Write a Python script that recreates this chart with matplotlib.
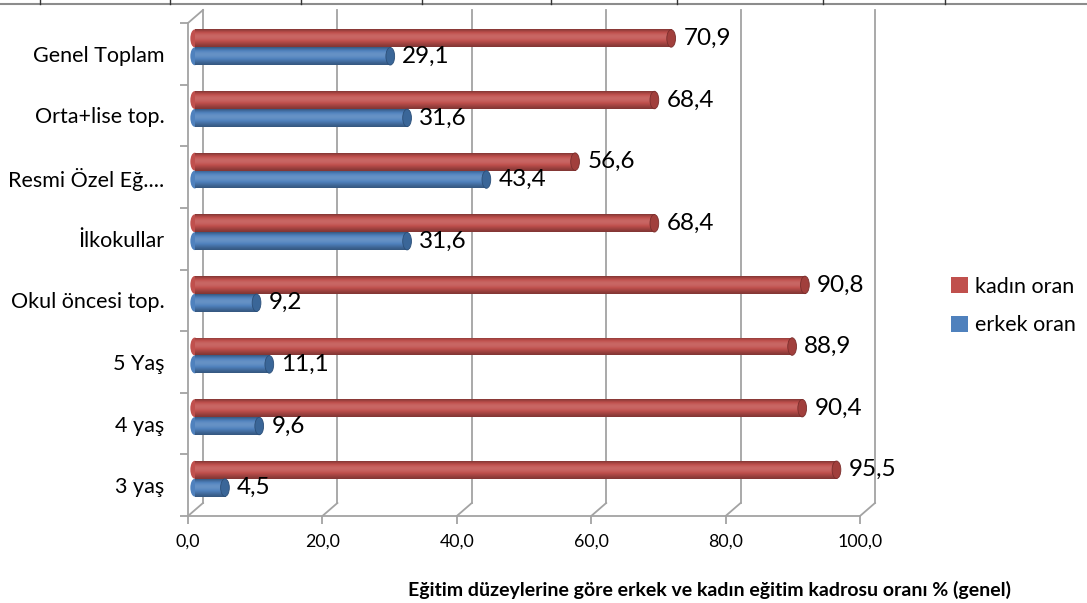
import numpy as np
import matplotlib
matplotlib.use("Agg")
import matplotlib.pyplot as plt
from matplotlib.patches import Ellipse, Patch
from matplotlib.lines import Line2D

plt.rcParams['font.family'] = ['Lato', 'DejaVu Sans']

# Veriler (alttan yukariya)
kategoriler = ["3 yaş", "4 yaş", "5 Yaş", "Okul öncesi top.", "İlkokullar",
               "Resmi Özel Eğ....", "Orta+lise top.", "Genel Toplam"]
kadin_oran = [95.5, 90.4, 88.9, 90.8, 68.4, 56.6, 68.4, 70.9]
erkek_oran = [4.5, 9.6, 11.1, 9.2, 31.6, 43.4, 31.6, 29.1]
x_ticks = [0, 20, 40, 60, 80, 100]
baslik = "Eğitim düzeylerine göre erkek ve kadın eğitim kadrosu oranı % (genel)"

W, H = 1087, 603
fig = plt.figure(figsize=(W / 100, H / 100), dpi=100)
ax = fig.add_axes([188 / W, 87 / H, 672 / W, 493 / H])
ax.set_xlim(0, 100)
ax.set_ylim(-0.5, len(kategoriler) - 0.5)

gri = '#a3a3a3'
# 3B derinlik (piksel -> veri birimi)
dx = 15 / 672 * 100
dy = 13 / (493 / len(kategoriler))
y0, y1 = -0.5, len(kategoriler) - 0.5

# arka duvar izgarasi ve taban cizgileri
for xt in x_ticks:
    ax.plot([xt, xt + dx], [y0, y0 + dy], color=gri, lw=1.3, zorder=1, clip_on=False)
    ax.plot([xt + dx, xt + dx], [y0 + dy, y1 + dy], color=gri, lw=1.3, zorder=1, clip_on=False)
ax.plot([0, dx], [y1, y1 + dy], color=gri, lw=1.3, zorder=1, clip_on=False)


def silindir_renk(base, n=64):
    base = np.array(matplotlib.colors.to_rgb(base))
    t = np.linspace(0, 1, n)
    f = 0.68 + 0.45 * np.sin(np.pi * t ** 1.3)
    out = []
    for v in f:
        if v > 1:
            out.append(base + (1 - base) * (v - 1))
        else:
            out.append(base * v)
    return np.clip(np.array(out), 0, 1)[:, None, :]


bar_h = 0.29
bar_left = 1.0
cap_w = 1.3
seriler = [
    (kadin_oran, 0.25, '#c0504d', '#a13f3c', '#7a2e2c'),
    (erkek_oran, -0.04, '#4f81bd', '#3a6698', '#2c4f78'),
]
y = np.arange(len(kategoriler))
for vals, off, renk, kapak, kenar in seriler:
    bars = ax.barh(y + off, vals, height=bar_h, left=bar_left, color=renk,
                   edgecolor='none', zorder=3)
    grad = silindir_renk(renk)
    for b, v in zip(bars, vals):
        bx, by = b.get_x(), b.get_y()
        bw, bh = b.get_width(), b.get_height()
        im = ax.imshow(grad, extent=[bx, bx + bw, by, by + bh], origin='lower',
                       aspect='auto', zorder=4, interpolation='bilinear')
        im.set_clip_path(b)
        ax.add_patch(Ellipse((bx, by + bh / 2), cap_w, bh, facecolor=renk,
                             edgecolor='none', zorder=2.5))
        ax.add_patch(Ellipse((bx + bw, by + bh / 2), cap_w, bh * 0.98,
                             facecolor=kapak, edgecolor=kenar, lw=0.6, zorder=5))
        ax.text(bx + bw + 1.8, by + bh / 2, f"{v:.1f}".replace('.', ','),
                va='center', ha='left', fontsize=17.5, color='black', zorder=6)

ax.set_xlim(0, 100)
ax.set_ylim(y0, y1)

for s in ['top', 'right']:
    ax.spines[s].set_visible(False)
for s in ['left', 'bottom']:
    ax.spines[s].set_color(gri)
    ax.spines[s].set_linewidth(1.3)

ax.set_xticks(x_ticks)
ax.set_xticklabels([f"{v:.1f}".replace('.', ',') for v in x_ticks], fontsize=12.8)
ax.set_yticks(np.arange(-0.5, len(kategoriler), 1.0))
ax.set_yticklabels([])
ax.set_yticks(y, minor=True)
ax.set_yticklabels(kategoriler, minor=True, fontsize=15.5)
ax.tick_params(axis='x', length=6, width=1.3, color=gri, pad=7)
ax.tick_params(axis='y', which='major', length=6, width=1.3, color=gri)
ax.tick_params(axis='y', which='minor', length=0, pad=17)

# gosterge
handles = [Patch(facecolor='#c0504d', label="kadın oran"),
           Patch(facecolor='#4f81bd', label="erkek oran")]
fig.legend(handles=handles, loc='center left', bbox_to_anchor=(932 / W, 1 - 306 / H),
           frameon=False, fontsize=15.5, handlelength=0.75, handleheight=0.75,
           handletextpad=0.35, labelspacing=0.85)

fig.text(709 / W, 1 - 590 / H, baslik, ha='center', va='center',
         fontsize=14, fontweight='bold')

# ustteki tablo cizgisi
fig.add_artist(Line2D([0, 1], [1 - 4 / H, 1 - 4 / H], transform=fig.transFigure,
                      color='#8c8c8c', lw=1.5))
for xp in [40, 170, 301, 422, 551, 677, 823, 945]:
    fig.add_artist(Line2D([xp / W, xp / W], [1, 1 - 4 / H], transform=fig.transFigure,
                          color='#333333', lw=1))

fig.savefig('out.png', dpi=100)
